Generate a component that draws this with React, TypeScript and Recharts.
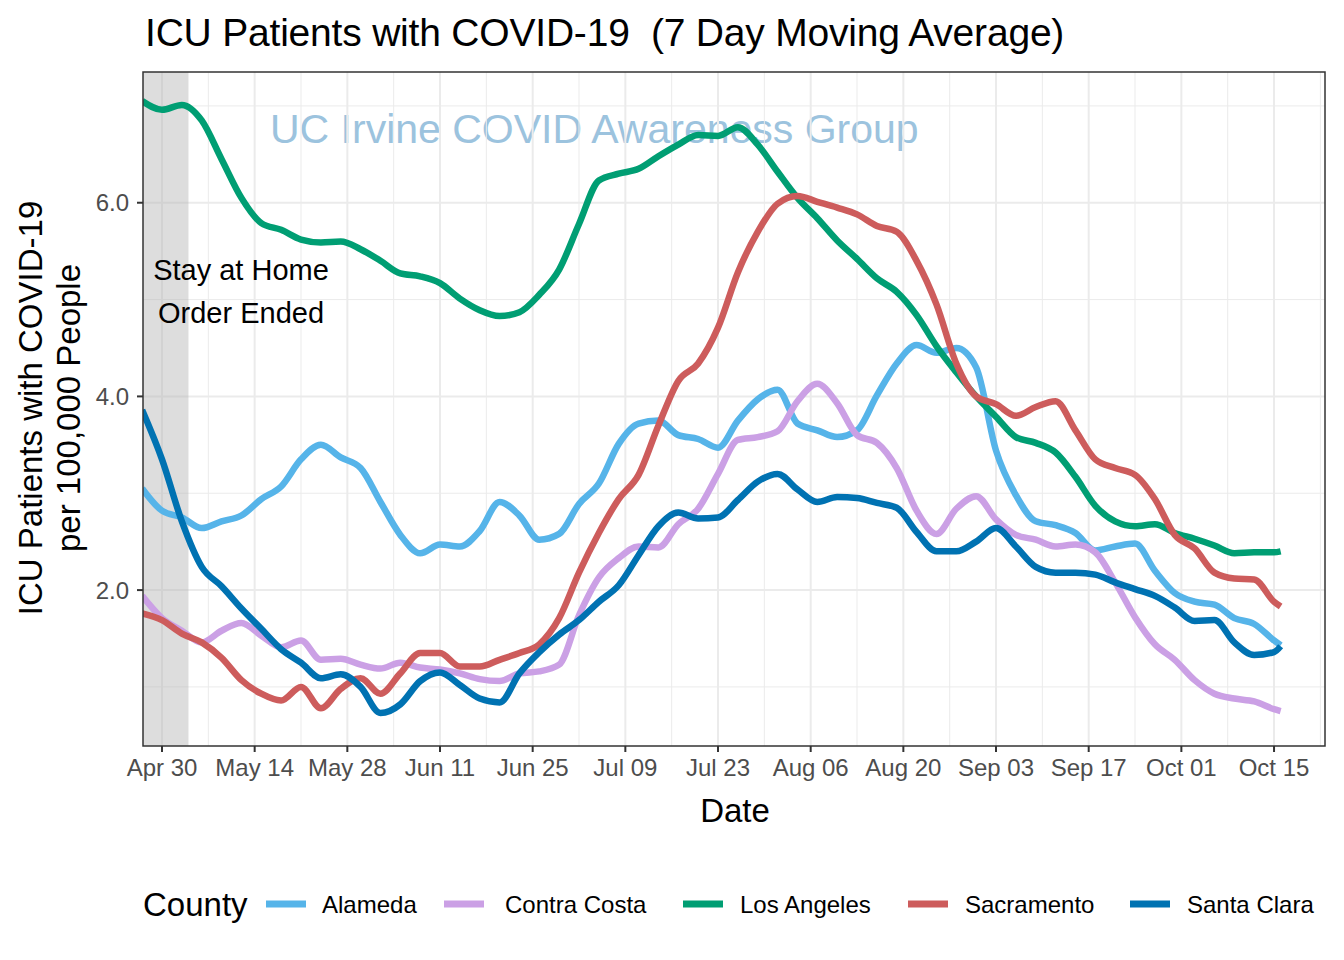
import { LineChart, Line, XAxis, YAxis, CartesianGrid, ReferenceArea } from "recharts";

// day 0 = Apr 27, sampled every 3 days
const days = [
  0, 3, 6, 9, 12, 15, 18, 21, 24, 27, 30, 33, 36, 39, 42, 45, 48, 51, 54, 57,
  60, 63, 66, 69, 72, 75, 78, 81, 84, 87, 90, 93, 96, 99, 102, 105, 108, 111, 114, 117,
  120, 123, 126, 129, 132, 135, 138, 141, 144, 147, 150, 153, 156, 159, 162, 165, 168, 171, 172,
];

const alameda = [
  3.05, 2.82, 2.75, 2.64, 2.71, 2.77, 2.94, 3.07, 3.35, 3.5,
  3.37, 3.26, 2.91, 2.57, 2.38, 2.47, 2.45, 2.61, 2.91, 2.77,
  2.52, 2.58, 2.89, 3.1, 3.51, 3.72, 3.75, 3.6, 3.56, 3.47,
  3.75, 3.97, 4.07, 3.72, 3.65, 3.58, 3.65, 4.01, 4.34, 4.53,
  4.45, 4.5, 4.3, 3.44, 2.98, 2.71, 2.67, 2.59, 2.41, 2.45,
  2.48, 2.2, 1.97, 1.88, 1.85, 1.71, 1.65, 1.48, 1.43,
];
const contraCosta = [
  1.94, 1.71, 1.58, 1.46, 1.58, 1.66, 1.53, 1.41, 1.48, 1.28,
  1.29, 1.23, 1.19, 1.25, 1.2, 1.18, 1.14, 1.08, 1.06, 1.14,
  1.16, 1.23, 1.74, 2.13, 2.33, 2.45, 2.44, 2.68, 2.84, 3.2,
  3.55, 3.58, 3.64, 3.95, 4.13, 3.93, 3.6, 3.52, 3.26, 2.82,
  2.58, 2.84, 2.97, 2.73, 2.57, 2.52, 2.45, 2.47, 2.39, 2.08,
  1.72, 1.44, 1.28, 1.07, 0.93, 0.88, 0.85, 0.77, 0.75,
];
const losAngeles = [
  7.05, 6.96, 7.01, 6.85, 6.45, 6.05, 5.79, 5.72, 5.62, 5.59,
  5.6, 5.52, 5.4, 5.27, 5.24, 5.17, 5.01, 4.89, 4.83, 4.87,
  5.05, 5.31, 5.78, 6.23, 6.3, 6.35, 6.48, 6.6, 6.7, 6.69,
  6.78, 6.6, 6.32, 6.05, 5.84, 5.61, 5.42, 5.22, 5.08, 4.84,
  4.52, 4.25, 4.0, 3.79, 3.58, 3.52, 3.42, 3.17, 2.87, 2.71,
  2.66, 2.68, 2.59, 2.53, 2.46, 2.38, 2.39, 2.39, 2.4,
];
const sacramento = [
  1.76, 1.69, 1.55, 1.46, 1.3, 1.07, 0.93, 0.86, 1.0, 0.78,
  0.98, 1.09, 0.93, 1.14, 1.35, 1.35, 1.21, 1.21, 1.28, 1.35,
  1.44, 1.71, 2.18, 2.59, 2.94, 3.19, 3.7, 4.16, 4.34, 4.71,
  5.28, 5.7, 5.99, 6.07, 6.01, 5.95, 5.88, 5.76, 5.7, 5.4,
  4.95, 4.34, 4.0, 3.92, 3.8, 3.89, 3.95, 3.65, 3.35, 3.26,
  3.19, 2.94, 2.57, 2.43, 2.18, 2.12, 2.11, 1.88, 1.83,
];
const santaClara = [
  3.86, 3.35, 2.71, 2.24, 2.04, 1.81, 1.6, 1.39, 1.25, 1.09,
  1.13, 1.0, 0.73, 0.82, 1.06, 1.15, 1.02, 0.88, 0.84, 1.14,
  1.36, 1.54, 1.69, 1.88, 2.05, 2.36, 2.66, 2.8, 2.74, 2.75,
  2.93, 3.12, 3.2, 3.04, 2.91, 2.96, 2.95, 2.9, 2.85, 2.6,
  2.4, 2.4, 2.5, 2.64, 2.45, 2.24, 2.18, 2.18, 2.16, 2.08,
  2.01, 1.94, 1.82, 1.68, 1.69, 1.46, 1.33, 1.36, 1.42,
];

const tickDays = [3, 17, 31, 45, 59, 73, 87, 101, 115, 129, 143, 157, 171];
const tickLabels = [
  "Apr 30", "May 14", "May 28", "Jun 11", "Jun 25", "Jul 09", "Jul 23",
  "Aug 06", "Aug 20", "Sep 03", "Sep 17", "Oct 01", "Oct 15",
];
const minorDays = [10, 24, 38, 52, 66, 80, 94, 108, 122, 136, 150, 164, 178];
const yTicks = [2, 4, 6];
const yMinor = [1, 3, 5, 7];

const series = [
  { key: "Alameda", values: alameda, color: "#56B4E9" },
  { key: "Contra Costa", values: contraCosta, color: "#CBA0E5" },
  { key: "Los Angeles", values: losAngeles, color: "#009E73" },
  { key: "Sacramento", values: sacramento, color: "#CD5C5C" },
  { key: "Santa Clara", values: santaClara, color: "#0072B2" },
];

const rows = days.map((d, i) => {
  const r: Record<string, number> = { day: d };
  series.forEach((s) => (r[s.key] = s.values[i]));
  return r;
});

const FONT = "'Liberation Sans', Arial, Helvetica, sans-serif";
const legendPos = [
  { key: 266, label: 322 },
  { key: 444, label: 505 },
  { key: 683, label: 740 },
  { key: 908, label: 965 },
  { key: 1130, label: 1187 },
];

export default function App() {
  return (
    <div style={{ position: "relative", width: 1344, height: 960, margin: -8, fontFamily: FONT, background: "#fff" }}>
      {/* watermark sits under the lines */}
      <svg width={1344} height={960} style={{ position: "absolute", left: 0, top: 0 }}>
        <text x={270} y={143} fontSize={41} fill="#9CC3DE" fontFamily={FONT}>
          UC Irvine COVID Awareness Group
        </text>
      </svg>
      <div style={{ position: "absolute", left: 0, top: 0 }}>
        <LineChart width={1344} height={960} data={rows} margin={{ top: 72, right: 19, left: 83, bottom: 174 }}>
          <CartesianGrid stroke="#EBEBEB" strokeWidth={1} horizontalValues={yMinor} verticalValues={minorDays} />
          <CartesianGrid stroke="#EBEBEB" strokeWidth={2} horizontalValues={yTicks} verticalValues={tickDays} />
          <ReferenceArea x1={0.13} x2={7} y1={0.39} y2={7.35} fill="#B3B3B3" fillOpacity={0.45} stroke="none" ifOverflow="hidden" />
          <XAxis
            dataKey="day"
            type="number"
            domain={[0.13, 178.7]}
            allowDataOverflow
            ticks={tickDays}
            tickFormatter={(v: number) => tickLabels[tickDays.indexOf(v)] ?? ""}
            axisLine={false}
            tickLine={{ stroke: "#333333", strokeWidth: 2 }}
            tickSize={6}
            tickMargin={7}
            height={40}
            interval={0}
            tick={{ fill: "#4D4D4D", fontSize: 24, fontFamily: FONT }}
          />
          <YAxis
            type="number"
            domain={[0.39, 7.35]}
            allowDataOverflow
            ticks={yTicks}
            tickFormatter={(v: number) => v.toFixed(1)}
            axisLine={false}
            tickLine={{ stroke: "#333333", strokeWidth: 2 }}
            tickSize={6}
            tickMargin={8}
            width={60}
            tick={{ fill: "#4D4D4D", fontSize: 24, fontFamily: FONT }}
          />
          {series.map((s) => (
            <Line
              key={s.key}
              dataKey={s.key}
              type="monotone"
              stroke={s.color}
              strokeWidth={6.5}
              strokeLinejoin="round"
              dot={false}
              activeDot={false}
              isAnimationActive={false}
            />
          ))}
        </LineChart>
      </div>
      {/* panel border, titles, annotation, legend */}
      <svg width={1344} height={960} style={{ position: "absolute", left: 0, top: 0, pointerEvents: "none" }} fontFamily={FONT}>
        <rect x={143} y={72} width={1182} height={674} fill="none" stroke="#333333" strokeWidth={1.5} />
        <text x={145} y={46} fontSize={39} fill="#000" letterSpacing={-0.2}>
          ICU Patients with COVID-19{"\u00a0\u00a0"}(7 Day Moving Average)
        </text>
        <text x={241} y={280} fontSize={29} textAnchor="middle" fill="#000">Stay at Home</text>
        <text x={241} y={323} fontSize={29} textAnchor="middle" fill="#000">Order Ended</text>
        <text x={735} y={822} fontSize={33} textAnchor="middle" fill="#000">Date</text>
        <text transform="translate(30,408) rotate(-90)" fontSize={33} textAnchor="middle" dominantBaseline="central" fill="#000">
          ICU Patients with COVID-19
        </text>
        <text transform="translate(68,408) rotate(-90)" fontSize={33} textAnchor="middle" dominantBaseline="central" fill="#000">
          per 100,000 People
        </text>
        <text x={143} y={916} fontSize={33} fill="#000">County</text>
        {series.map((s, i) => (
          <g key={s.key}>
            <line x1={legendPos[i].key} x2={legendPos[i].key + 40} y1={904} y2={904} stroke={s.color} strokeWidth={7} />
            <text x={legendPos[i].label} y={913} fontSize={24} fill="#000">{s.key}</text>
          </g>
        ))}
      </svg>
    </div>
  );
}
